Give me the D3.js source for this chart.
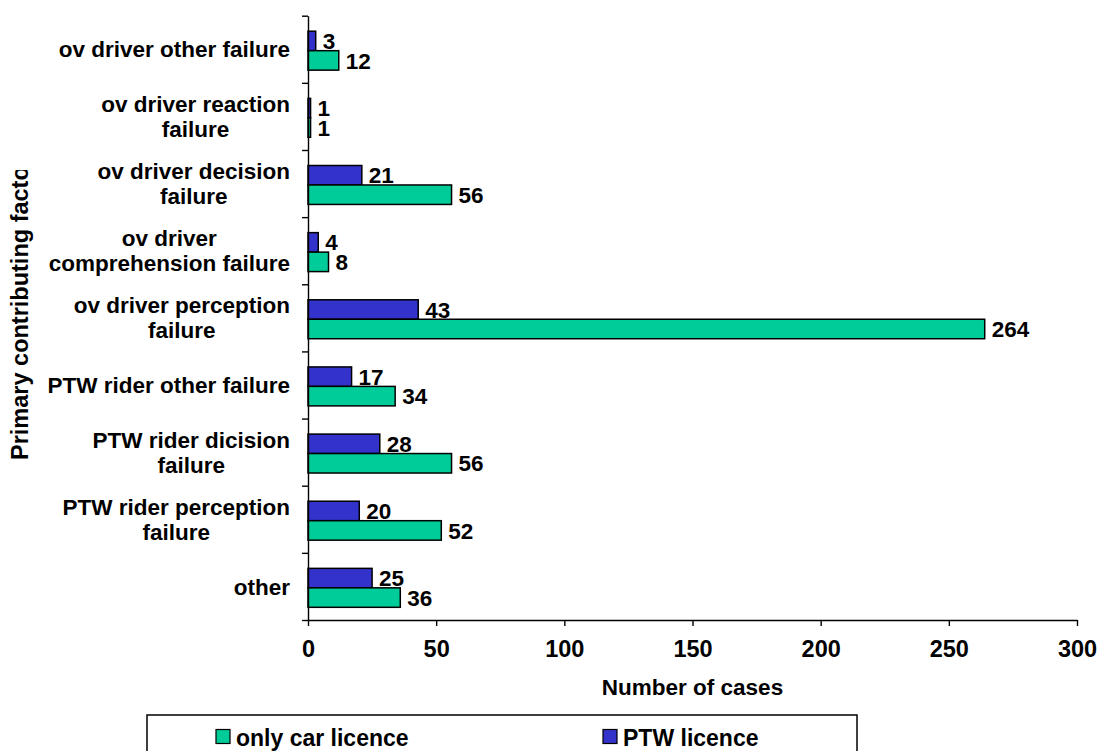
<!DOCTYPE html>
<html><head><meta charset="utf-8">
<script src="https://cdn.jsdelivr.net/npm/d3@7"></script>
<style>
body{margin:0;background:#fff}
text{font-family:"Liberation Sans",Arial,sans-serif;font-weight:bold;fill:#000}
</style>
</head><body>
<svg id="chart" width="1099" height="751"></svg>
<script>
// ---- data ----
const categories = [
  "ov driver other failure",
  "ov driver reaction failure",
  "ov driver decision failure",
  "ov driver comprehension failure",
  "ov driver perception failure",
  "PTW rider other failure",
  "PTW rider dicision failure",
  "PTW rider perception failure",
  "other"
];
const categoryLines = [
  ["ov driver other failure"],
  ["ov driver reaction", "failure"],
  ["ov driver decision", "failure"],
  ["ov driver", "comprehension failure"],
  ["ov driver perception", "failure"],
  ["PTW rider other failure"],
  ["PTW rider dicision", "failure"],
  ["PTW rider perception", "failure"],
  ["other"]
];
const carLicence = [12, 1, 56, 8, 264, 34, 56, 52, 36];
const ptwLicence = [3, 1, 21, 4, 43, 17, 28, 20, 25];
const xTicks = [0, 50, 100, 150, 200, 250, 300];
const seriesNames = ["only car licence", "PTW licence"];
const seriesKeys = ["car", "ptw"];
const seriesColors = ["#00CC99", "#3333CC"];
const xTitle = "Number of cases";
const yTitle = "Primary contributing facto";

// ---- layout ----
const svg = d3.select("#chart");
const plotLeft = 308, plotRight = 1077, plotTop = 15.7, plotBottom = 620;

const x = d3.scaleLinear().domain([0, 300]).range([plotLeft, plotRight]);
const y = d3.scaleBand().domain(categories).range([plotTop, plotBottom])
  .paddingInner(0.42).paddingOuter(0.21).align(0.55);
const yInner = d3.scaleBand().domain(["ptw", "car"]).range([0, y.bandwidth()]);
const color = d3.scaleOrdinal().domain(seriesKeys).range(seriesColors);

// boundaries scale for y axis ticks
const yb = d3.scaleLinear().domain([0, categories.length]).range([plotTop, plotBottom]);

// bars
const rows = categories.map((c, i) => ({cat: c, car: carLicence[i], ptw: ptwLicence[i]}));
const g = svg.append("g");
rows.forEach(r => {
  ["ptw", "car"].forEach(k => {
    const y0 = y(r.cat) + yInner(k);
    g.append("rect")
      .attr("x", x(0)).attr("y", y0)
      .attr("width", x(r[k]) - x(0)).attr("height", yInner.bandwidth())
      .attr("fill", color(k)).attr("stroke", "#000").attr("stroke-width", 1.5);
    g.append("text")
      .attr("x", x(r[k]) + 7).attr("y", y0 + yInner.bandwidth() / 2)
      .attr("dy", "0.36em")
      .style("font-size", "22.5px")
      .text(r[k]);
  });
});

// y axis
const yAxis = svg.append("g").attr("transform", `translate(${plotLeft},0)`)
  .call(d3.axisLeft(yb).tickValues(d3.range(categories.length + 1)).tickFormat("").tickSize(6).tickSizeOuter(0));
yAxis.selectAll("path,line").attr("stroke", "#000").attr("stroke-width", 1.4);

// x axis
const xAxis = svg.append("g").attr("transform", `translate(0,${plotBottom})`)
  .call(d3.axisBottom(x).tickValues(xTicks).tickSize(6).tickSizeOuter(0));
xAxis.selectAll("path,line").attr("stroke", "#000").attr("stroke-width", 1.4);
xAxis.selectAll("text").attr("y", 37).attr("dy", 0)
  .style("font-size", "23.5px").style("font-family", '"Liberation Sans",Arial,sans-serif')
  .style("font-weight", "bold").attr("fill", "#000");

// category labels
const labelRight = 290, lineH = 25;
categoryLines.forEach((lines, i) => {
  const cy = (yb(i) + yb(i + 1)) / 2;
  const t = svg.append("g");
  const texts = lines.map((ln, j) => t.append("text")
    .attr("text-anchor", "middle")
    .style("font-size", "22.5px")
    .attr("y", cy + (j - (lines.length - 1) / 2) * lineH)
    .attr("dy", "0.36em")
    .text(ln));
  const w = d3.max(texts, s => s.node().getComputedTextLength());
  texts.forEach(s => s.attr("x", labelRight - w / 2));
});

// axis titles
svg.append("text").attr("x", (plotLeft + plotRight) / 2).attr("y", 695)
  .attr("text-anchor", "middle").style("font-size", "22.5px").text(xTitle);

svg.append("defs").append("clipPath").attr("id", "ytclip")
  .append("rect").attr("x", 0).attr("y", 170).attr("width", 60).attr("height", 400);
svg.append("g").attr("clip-path", "url(#ytclip)")
  .append("text").attr("transform", "translate(28,460) rotate(-90)")
  .attr("text-anchor", "start").style("font-size", "23.5px")
  .text(yTitle);

// legend
svg.append("rect").attr("x", 147).attr("y", 715).attr("width", 710).attr("height", 60)
  .attr("fill", "none").attr("stroke", "#000").attr("stroke-width", 1.5);
const legendX = d3.scalePoint().domain(seriesKeys).range([216, 603]);
seriesKeys.forEach((k, i) => {
  const lx = legendX(k);
  svg.append("rect").attr("x", lx).attr("y", 729.5).attr("width", 14).attr("height", 14)
    .attr("fill", color(k)).attr("stroke", "#000").attr("stroke-width", 1.2);
  svg.append("text").attr("x", lx + 20).attr("y", 746).style("font-size", "23px")
    .text(seriesNames[i]);
});
</script>
</body></html>
